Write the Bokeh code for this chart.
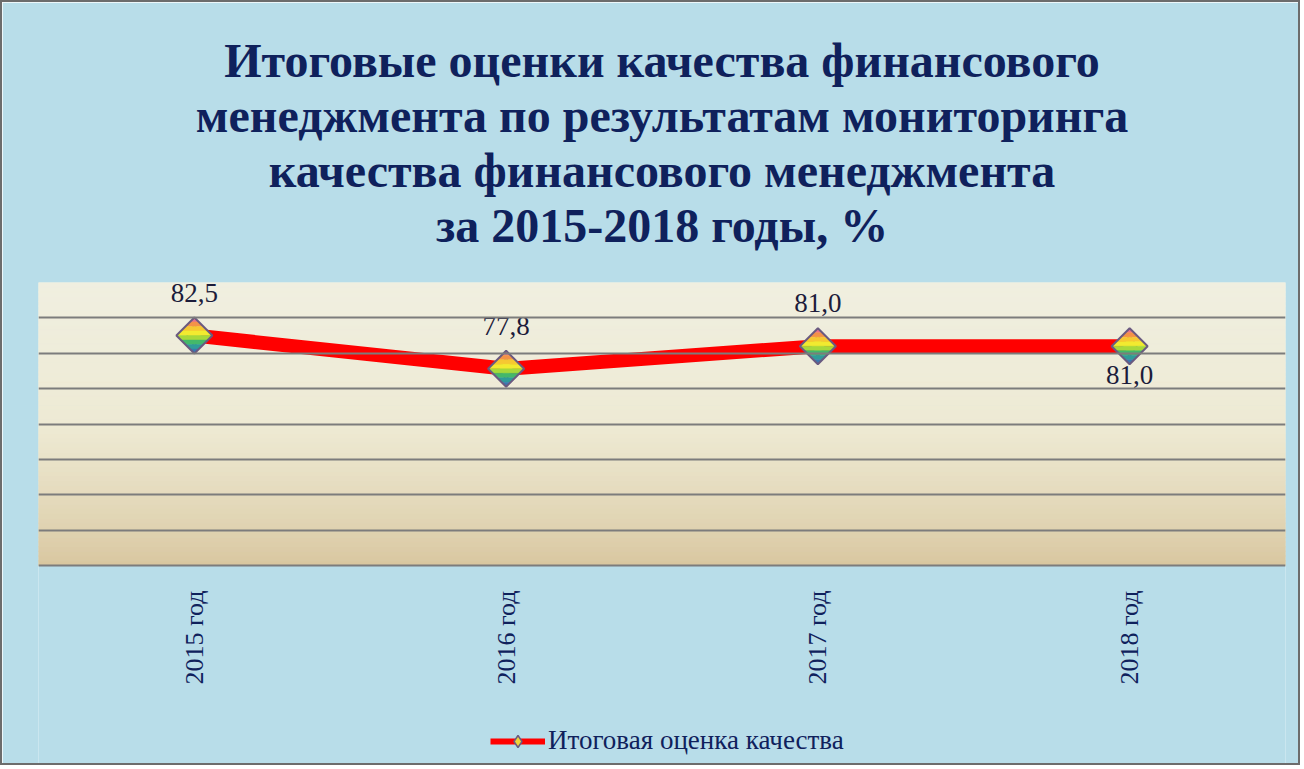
import numpy as np
from bokeh.plotting import figure
from bokeh.models import Range1d, FixedTicker, Title, Legend, LegendItem, ColumnDataSource
from bokeh.embed import file_html
from bokeh.resources import INLINE

# ---- data ----
years = ["2015 год", "2016 год", "2017 год", "2018 год"]
values = [82.5, 77.8, 81.0, 81.0]
value_labels = ["82,5", "77,8", "81,0", "81,0"]
label_side = ["above", "above", "above", "below"]
series_name = "Итоговая оценка качества"
title_lines = [
    "Итоговые оценки качества финансового",
    "менеджмента по результатам мониторинга",
    "качества финансового менеджмента",
    "за 2015-2018 годы, %",
]

# ---- style / layout ----
Y_MIN, Y_MAX, Y_STEP = 50, 90, 5
W, H = 1300, 765
LEFT, RIGHT, TOP = 36, 17, 280
PLOT_W = W - LEFT - RIGHT          # 1247
PLOT_H = 283                       # height of the cream plot area
BELOW_PX = H - TOP - PLOT_H        # room below plot area for labels + legend
PX_PER_Y = PLOT_H / (Y_MAX - Y_MIN)
PX_PER_X = PLOT_W / len(years)
BG = "#b8dde9"
NAVY = "#0f215c"
SERIF = "Liberation Serif"
DIAMOND_R = 18  # px
stripe_colors = ["#e8708c", "#f39248", "#f6c832", "#f2ea30", "#a8d83a",
                 "#44b86a", "#2f9c98", "#3a78b0"]

x_pos = [i + 0.5 for i in range(len(years))]

p = figure(width=W, height=H,
           x_range=Range1d(0, len(years)),
           y_range=Range1d(Y_MIN - BELOW_PX / PX_PER_Y, Y_MAX),
           output_backend="svg", toolbar_location=None,
           min_border_left=LEFT, min_border_right=RIGHT,
           min_border_top=TOP, min_border_bottom=0)
p.styles = {"border": "2px solid #6c6c6c"}
p.background_fill_color = BG
p.border_fill_color = BG
p.outline_line_color = None
p.xaxis.visible = False
p.yaxis.visible = False

# plot-area gradient (decoration)
n_strip = 60
edges = np.linspace(Y_MIN, Y_MAX, n_strip + 1)
top_c = np.array([0xf0, 0xef, 0xe0])
mid_c = np.array([0xee, 0xea, 0xd4])
bot_c = np.array([0xd8, 0xc6, 0x9e])
cols = []
for k in range(n_strip):
    f = (k + 0.5) / n_strip  # 0 bottom, 1 top
    if f > 0.5:
        c = mid_c + (top_c - mid_c) * (f - 0.5) / 0.5
    else:
        c = bot_c + (mid_c - bot_c) * (f / 0.5) ** 0.8
    cols.append("#%02x%02x%02x" % tuple(int(round(v)) for v in c))
p.quad(left=0, right=len(years), bottom=edges[:-1], top=edges[1:],
       fill_color=cols, line_color=cols, line_width=1, level="underlay")

# horizontal grid lines
grid_ticks = list(range(Y_MIN, Y_MAX + 1, Y_STEP))
p.yaxis.ticker = FixedTicker(ticks=grid_ticks)
p.ygrid.ticker = FixedTicker(ticks=grid_ticks)
p.ygrid.grid_line_color = "#7c7c7c"
p.ygrid.grid_line_width = 2
p.ygrid.level = "glyph"
p.xgrid.visible = False

# category labels (vertical, below the plot area)
p.text(x_pos, [Y_MIN] * len(years), text=years, angle=np.pi / 2,
       y_offset=25, text_align="right", text_baseline="middle",
       text_font=SERIF, text_font_size="26px", text_color=NAVY)

# line
src = ColumnDataSource(dict(x=x_pos, y=values, lab=value_labels))
leg_line = p.line("x", "y", source=src, line_color="#ff0000", line_width=6)
p.line("x", "y", source=src, line_color="#ff0000", line_width=14)
leg_marker = p.scatter("x", "y", source=src, marker="diamond", size=22,
                       fill_color="#eed43a", line_color="#6a5a80", line_width=1.5)

# gradient diamonds
xu = DIAMOND_R / PX_PER_X
yu = DIAMOND_R / PX_PER_Y
bands = np.linspace(1, -1, len(stripe_colors) + 1)
xs, ys, fc = [], [], []
for cx, cy in zip(x_pos, values):
    for b in range(len(stripe_colors)):
        t_hi, t_lo = bands[b], bands[b + 1]
        ts = [t_hi] + ([0.0] if t_lo < 0 < t_hi else []) + [t_lo]
        left = [(-(1 - abs(t)), t) for t in ts]
        right = [((1 - abs(t)), t) for t in reversed(ts)]
        poly = left + right
        xs.append([cx + u * xu for u, t in poly])
        ys.append([cy + t * yu for u, t in poly])
        fc.append(stripe_colors[b])
p.patches(xs, ys, fill_color=fc, line_color=fc, line_width=0.5)
oxs = [[cx, cx + xu, cx, cx - xu] for cx in x_pos]
oys = [[cy + yu, cy, cy - yu, cy] for cy in values]
p.patches(oxs, oys, fill_alpha=0, line_color="#6a5a80", line_width=2)

# value labels
above = [i for i, s in enumerate(label_side) if s == "above"]
below = [i for i, s in enumerate(label_side) if s == "below"]
for idx, off in ((above, 43), (below, -29)):
    p.text([x_pos[i] for i in idx], [values[i] for i in idx],
           text=[value_labels[i] for i in idx], y_offset=-off,
           text_align="center", text_baseline="middle",
           text_font=SERIF, text_font_size="27px", text_color="#1c1c3a")

# legend (inside the extended frame, below the category labels)
legend = Legend(items=[LegendItem(label=series_name, renderers=[leg_line, leg_marker])],
                location=(452, 11), orientation="horizontal",
                background_fill_alpha=0, border_line_color=None,
                label_text_font=SERIF, label_text_font_size="27px",
                label_text_color=NAVY, glyph_width=55, glyph_height=30,
                label_standoff=3, margin=0, padding=0)
p.add_layout(legend, "center")

# spacer between title block and plot area
p.add_layout(Title(text=" ", text_font=SERIF, text_font_size="26px",
                   standoff=0, offset=0), "above")
# titles (added bottom line first)
for line in reversed(title_lines):
    t = Title(text=line, align="center", text_font=SERIF, text_font_size="48px",
              text_font_style="bold", text_color=NAVY, standoff=0, offset=0)
    p.add_layout(t, "above")

open("out.html", "w").write(file_html(p, INLINE))
